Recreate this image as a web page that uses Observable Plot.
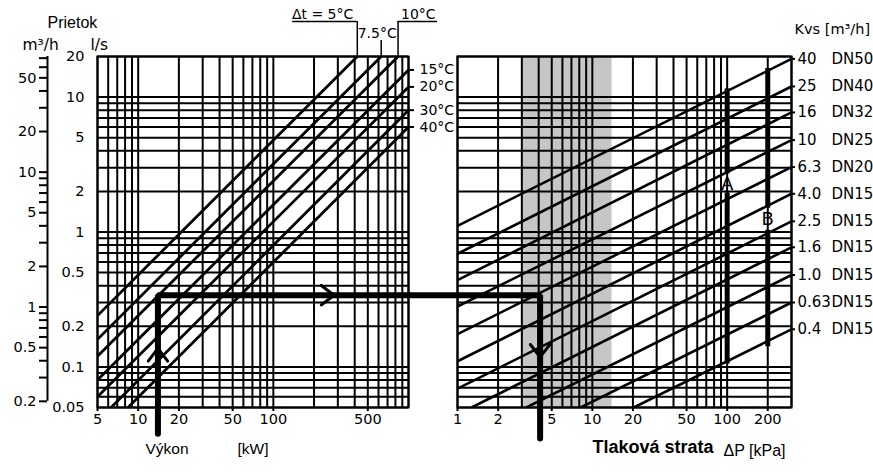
<!DOCTYPE html>
<html><head><meta charset="utf-8">
<script src="https://cdn.jsdelivr.net/npm/d3@7"></script>
<script src="https://cdn.jsdelivr.net/npm/@observablehq/plot@0.6"></script>
<style>
body{margin:0;background:#fff;}
#chart{position:relative;width:873px;height:472px;background:#fff;overflow:hidden;}
#chart svg{position:absolute;left:0;top:0;}
</style></head><body><div id="chart"></div>
<script>
// ---------- data ----------
const flowDomain = [0.05, 20];                 // l/s
const flowTicks = [20, 10, 5, 2, 1, 0.5, 0.2, 0.1, 0.05];
const flowGrid = [0.05,0.06,0.07,0.08,0.09,0.1,0.2,0.3,0.4,0.5,0.6,0.7,0.8,0.9,1,2,3,4,5,6,7,8,9,10,20];
const m3hTicks = [70,60,50,40,30,20,10,9,8,7,6,5,4,3,2,1,0.9,0.8,0.7,0.6,0.5,0.4,0.3,0.2];
const m3hLabels = [50, 20, 10, 5, 2, 1, 0.5, 0.2];

const kwDomain = [5, 1000];
const kwTicks = [5, 10, 20, 50, 100, 500];
const kwGrid = [5,6,7,8,9,10,20,30,40,50,60,70,80,90,100,200,300,400,500,600,700,800,900,1000];

const dtNames = ["5", "7.5", "10", "15", "20", "30", "40"];
const dtStartKW = [5, 5, 5, 5, 5, 6.3, 8.4];
const dtStartFlow = [0.24, 0.16, 0.12, 0.08, 0.06, 0.05, 0.05];
const dtEndKW = [418, 628, 837, 1000, 1000, 1000, 1000];
const dtEndFlow = [20, 20, 20, 15.9, 11.9, 8.0, 6.0];

const topLabels = ["Δt = 5°C", "7.5°C", "10°C"];
const topLeaderFlow = [36.3, 26.3, 36.3];
const underline5KW = [139, 418];
const underline10KW = [837, 1640];

const kpaDomain = [1, 300];
const kpaTicks = [1, 2, 5, 10, 20, 50, 100, 200];
const kpaGrid = [1,2,3,4,5,6,7,8,9,10,20,30,40,50,60,70,80,90,100,200,300];
const bandKPa = [3, 14];

const kvsNames = ["40","25","16","10","6.3","4.0","2.5","1.6","1.0","0.63","0.4"];
const dnNames = ["DN50","DN40","DN32","DN25","DN20","DN15","DN15","DN15","DN15","DN15","DN15"];
const kvsStartKPa = [1, 1, 1, 1, 1, 1, 1, 1.27, 3.24, 8.2, 20.3];
const kvsStartFlow = [1.11, 0.69, 0.44, 0.28, 0.175, 0.11, 0.069, 0.05, 0.05, 0.05, 0.05];
const kvsEndKPa = [300, 300, 300, 300, 300, 300, 300, 300, 300, 300, 300];
const kvsEndFlow = [19.2, 12.0, 7.7, 4.8, 3.03, 1.92, 1.20, 0.77, 0.48, 0.30, 0.19];

const barNames = ["A", "B"];
const barKPa = [100, 200];
const barTopFlow = [11.5, 16.3];
const barGapTopFlow = [2.7, 1.5];
const barGapBottomFlow = [1.95, 1.03];
const barBottomFlow = [0.105, 0.141];
const barLabelFlow = [2.25, 1.25];

// worked example: 14 kW, Δt 10 °C -> 0.34 l/s -> 4.1 kPa
const routeKW = 14;
const routeFlow = 0.34;
const routeKPa = 4.1;
const routeBottomFlowLeft = 0.032;
const routeBottomFlowRight = 0.0295;
const arrowUpTipFlow = 0.137;
const arrowRightTipKW = 281;
const arrowDownTipFlow = 0.118;

// ---------- layout ----------
const W = 873, H = 472, TOP = 56, BOTTOM = 65;
const L = {left: 97, right: 408}, R = {left: 457, right: 791};
const INK = "#000";
const NUM = "DejaVu Sans, sans-serif";
const TXT = "Liberation Sans, Arial, sans-serif";
const GRID_W = 2;
const fmt = d => String(d);
const blank = () => "";

function logScale(domain, range) {
  try { return Plot.scale({x: {type: "log", domain, range}}); }
  catch (e) { const s = d3.scaleLog(domain, range); return {apply: s, invert: s.invert}; }
}
const kwScale = logScale(kwDomain, [L.left, L.right]);
const kpaScale = logScale(kpaDomain, [R.left, R.right]);
const routeEndKW = kwScale.invert(kpaScale.apply(routeKPa));

const idx = n => d3.range(n);
const dtRight = idx(dtNames.length).filter(i => dtEndKW[i] === kwDomain[1]);

// ---------- right panel ----------
const right = Plot.plot({
  width: W, height: H,
  marginLeft: R.left, marginRight: W - R.right, marginTop: TOP, marginBottom: BOTTOM,
  x: {type: "log", domain: kpaDomain, axis: null},
  y: {type: "log", domain: flowDomain, axis: null},
  style: {background: "transparent", fontFamily: NUM, fontSize: "14.5px", color: INK},
  marks: [
    Plot.rect([0], {x1: () => bandKPa[0], x2: () => bandKPa[1], y1: () => flowDomain[0], y2: () => flowDomain[1], fill: "#c6c6c6"}),
    Plot.ruleX(kpaGrid, {stroke: INK, strokeWidth: GRID_W}),
    Plot.ruleY(flowGrid, {stroke: INK, strokeWidth: GRID_W}),
    Plot.frame({stroke: INK, strokeWidth: 2}),
    Plot.link(idx(kvsNames.length), {
      x1: i => kvsStartKPa[i], y1: i => kvsStartFlow[i], x2: i => kvsEndKPa[i], y2: i => kvsEndFlow[i],
      stroke: INK, strokeWidth: 2.6, clip: true
    }),
    Plot.ruleX(idx(2), {x: i => barKPa[i], y1: i => barTopFlow[i], y2: i => barGapTopFlow[i], stroke: INK, strokeWidth: 5}),
    Plot.ruleX(idx(2), {x: i => barKPa[i], y1: i => barGapBottomFlow[i], y2: i => barBottomFlow[i], stroke: INK, strokeWidth: 5}),
    Plot.text(idx(2), {x: i => barKPa[i], y: i => barLabelFlow[i], text: i => barNames[i], fontSize: 18, fill: INK}),
    // x axis
    Plot.axisX({ticks: kpaTicks, tickFormat: blank, tickSize: 4, strokeWidth: GRID_W, label: null}),
    Plot.text(kpaTicks, {x: d => d, text: fmt, frameAnchor: "bottom", dy: 16, fill: INK}),
    // Kvs / DN labels
    Plot.axisY({anchor: "right", ticks: kvsEndFlow, tickSize: 3, strokeWidth: GRID_W, tickFormat: blank, label: null}),
    Plot.text(idx(kvsNames.length), {y: i => kvsEndFlow[i], text: i => kvsNames[i], frameAnchor: "right", dx: 6, textAnchor: "start", fontSize: 15, fill: INK}),
    Plot.text(idx(kvsNames.length), {y: i => kvsEndFlow[i], text: i => dnNames[i], frameAnchor: "right", dx: 40, textAnchor: "start", fontSize: 15, fill: INK}),
    Plot.text(["Kvs [m³/h]"], {text: d => d, frameAnchor: "top-right", dx: 3, dy: -33, textAnchor: "start", fontSize: 14.5, fill: INK}),
    Plot.text(["Tlaková strata"], {text: d => d, frameAnchor: "bottom-left", dx: 135, dy: 45, textAnchor: "start", fontSize: 18, fontWeight: "bold", fontFamily: TXT, fill: INK}),
    Plot.text(["ΔP [kPa]"], {text: d => d, frameAnchor: "bottom-left", dx: 266, dy: 48, textAnchor: "start", fontSize: 16, fontFamily: TXT, fill: INK})
  ]
});

// ---------- left panel ----------
const left = Plot.plot({
  width: W, height: H,
  marginLeft: L.left, marginRight: W - L.right, marginTop: TOP, marginBottom: BOTTOM,
  x: {type: "log", domain: kwDomain, axis: null},
  y: {type: "log", domain: flowDomain, axis: null},
  style: {background: "transparent", fontFamily: NUM, fontSize: "14.5px", color: INK},
  marks: [
    Plot.ruleX(kwGrid, {stroke: INK, strokeWidth: GRID_W}),
    Plot.ruleY(flowGrid, {stroke: INK, strokeWidth: GRID_W}),
    Plot.frame({stroke: INK, strokeWidth: 2}),
    Plot.link(idx(dtNames.length), {
      x1: i => dtStartKW[i], y1: i => dtStartFlow[i], x2: i => dtEndKW[i], y2: i => dtEndFlow[i],
      stroke: INK, strokeWidth: 2.8, clip: true
    }),
    // x axis
    Plot.axisX({ticks: kwTicks, tickFormat: blank, tickSize: 4, strokeWidth: GRID_W, label: null}),
    Plot.text(kwTicks, {x: d => d, text: fmt, frameAnchor: "bottom", dy: 16, fill: INK}),
    // l/s labels
    Plot.text(flowTicks, {y: d => d, text: fmt, frameAnchor: "left", dx: -13, textAnchor: "end", fill: INK}),
    // m3/h axis
    Plot.ruleX([0], {x: () => kwDomain[0], y1: () => flowDomain[1], y2: () => 0.2 / 3.6, dx: -50, stroke: INK, strokeWidth: GRID_W}),
    Plot.axisY({anchor: "left", ticks: m3hTicks.map(v => v / 3.6), tickSize: 8, dx: -50, strokeWidth: GRID_W, tickFormat: blank, label: null}),
    Plot.text(m3hLabels, {y: d => d / 3.6, text: fmt, frameAnchor: "left", dx: -61, textAnchor: "end", fill: INK}),
    // Δt labels at right edge
    Plot.axisY({anchor: "right", ticks: dtRight.map(i => dtEndFlow[i]), tickSize: 5, strokeWidth: GRID_W, tickFormat: blank, label: null}),
    Plot.text(dtRight, {y: i => dtEndFlow[i], text: i => dtNames[i] + "°C", frameAnchor: "right", dx: 11, textAnchor: "start", fontSize: 14, fill: INK}),
    // Δt labels on top with leaders
    Plot.ruleX(idx(3), {x: i => dtEndKW[i], y1: () => flowDomain[1], y2: i => topLeaderFlow[i], stroke: INK, strokeWidth: 1.5}),
    Plot.ruleY([0], {y: () => topLeaderFlow[0], x1: () => underline5KW[0], x2: () => underline5KW[1], stroke: INK, strokeWidth: 1.5}),
    Plot.ruleY([0], {y: () => topLeaderFlow[2], x1: () => underline10KW[0], x2: () => underline10KW[1], stroke: INK, strokeWidth: 1.5}),
    Plot.text([0], {x: () => dtEndKW[0], y: () => topLeaderFlow[0], text: () => topLabels[0], textAnchor: "end", dx: -4, dy: -7, fontSize: 14, fill: INK}),
    Plot.text([1], {x: () => dtEndKW[1], y: () => topLeaderFlow[1], text: () => topLabels[1], textAnchor: "middle", dx: -4, dy: -7, fontSize: 14, fill: INK}),
    Plot.text([2], {x: () => dtEndKW[2], y: () => topLeaderFlow[2], text: () => topLabels[2], textAnchor: "start", dx: 3, dy: -7, fontSize: 14, fill: INK}),
    // titles
    Plot.text(["Prietok"], {text: d => d, frameAnchor: "top-left", dx: -50, dy: -40, textAnchor: "start", fontSize: 16, fontFamily: TXT, fill: INK}),
    Plot.text(["m³/h"], {text: d => d, frameAnchor: "top-left", dx: -75, dy: -18, textAnchor: "start", fontSize: 15.5, fill: INK}),
    Plot.text(["l/s"], {text: d => d, frameAnchor: "top-left", dx: -7, dy: -18, textAnchor: "start", fontSize: 15.5, fill: INK}),
    Plot.text(["Výkon"], {text: d => d, frameAnchor: "bottom-left", dx: 48, dy: 46, fontSize: 15.5, fontFamily: TXT, fill: INK}),
    Plot.text(["[kW]"], {text: d => d, frameAnchor: "bottom-left", dx: 140, dy: 46, fontSize: 15.5, fontFamily: TXT, fill: INK}),
    // route arrows
    Plot.arrow([0], {x1: () => routeKW, y1: () => flowDomain[0], x2: () => routeKW, y2: () => arrowUpTipFlow, stroke: INK, strokeWidth: 3, headAngle: 75, headLength: 8}),
    Plot.arrow([0], {x1: () => 100, y1: () => routeFlow, x2: () => arrowRightTipKW, y2: () => routeFlow, stroke: INK, strokeWidth: 3, headAngle: 75, headLength: 8}),
    Plot.arrow([0], {x1: () => routeEndKW, y1: () => routeFlow, x2: () => routeEndKW, y2: () => arrowDownTipFlow, stroke: INK, strokeWidth: 3, headAngle: 75, headLength: 8}),
    // route
    Plot.line(idx(4), {
      x: i => [routeKW, routeKW, routeEndKW, routeEndKW][i],
      y: i => [routeBottomFlowLeft, routeFlow, routeFlow, routeBottomFlowRight][i],
      stroke: "#000", strokeWidth: 6, strokeLinejoin: "miter"
    })
  ]
});

const chart = document.getElementById("chart");
chart.append(right, left);
</script></body></html>
